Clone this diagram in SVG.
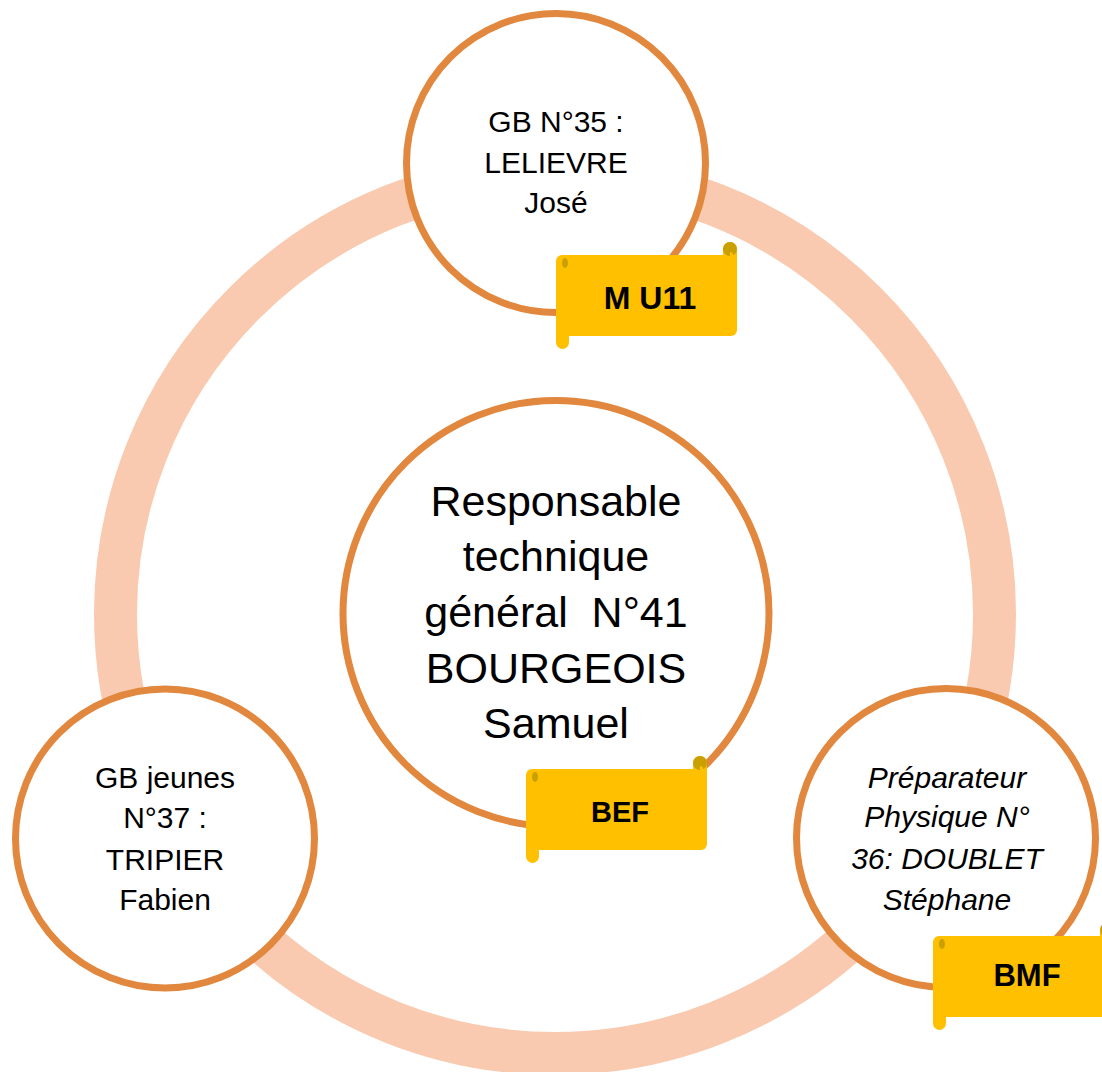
<svg xmlns="http://www.w3.org/2000/svg" xmlns:xlink="http://www.w3.org/1999/xlink" width="1102" height="1072" viewBox="0 0 1102 1072">
<style>
.node{fill:#FFFFFF;stroke:#E1873E;stroke-width:7}
.t{font-family:"Liberation Sans",Arial,sans-serif;fill:#000;text-anchor:middle}
.big{font-size:43px}
.mid{font-size:30px}
.it{font-style:italic}
.tag{font-family:"Liberation Sans",Arial,sans-serif;font-weight:bold;fill:#000;text-anchor:middle}
</style>
<defs>
<g id="scroll">
<rect x="0" y="0" width="181" height="81" rx="6" fill="#FFC000"/>
<rect x="0" y="60" width="13" height="34" rx="6.5" fill="#FFC000"/>
<path d="M167,12 L167,-6 A7,7 0 0 1 181,-6 L181,12 Z" fill="#FFC000"/>
<circle cx="174" cy="-6" r="7" fill="#C9A000"/>
<path d="M174,-3 A3,3 0 0 1 177,0 L177,7 L174,7 Z" fill="#FFC000"/>
<ellipse cx="9" cy="8" rx="3" ry="5" fill="#C9A000"/>
</g>
</defs>
<rect width="1102" height="1072" fill="#FFFFFF"/>
<g id="connectors">
<circle cx="555" cy="614" r="439.5" fill="none" stroke="#F9CAAF" stroke-width="43"/>
</g>
<g id="node-top">
<circle class="node" cx="556" cy="163" r="149.5"/>
<text class="t mid" x="556" y="132">GB N°35 :</text>
<text class="t mid" x="556" y="173">LELIEVRE</text>
<text class="t mid" x="556" y="213">José</text>
<use xlink:href="#scroll" x="556" y="255"/>
<text class="tag" x="650" y="309" font-size="32">M U11</text>
</g>
<g id="node-center">
<circle class="node" cx="556" cy="613.5" r="213"/>
<text class="t big" x="556" y="516">Responsable</text>
<text class="t big" x="556" y="571">technique</text>
<text class="t big" x="556" y="627" xml:space="preserve">général  N°41</text>
<text class="t big" x="556" y="683">BOURGEOIS</text>
<text class="t big" x="556" y="738">Samuel</text>
<use xlink:href="#scroll" x="526" y="769"/>
<text class="tag" x="620" y="822" font-size="29">BEF</text>
</g>
<g id="node-left">
<circle class="node" cx="165" cy="838.5" r="149.5"/>
<text class="t mid" x="165" y="788">GB jeunes</text>
<text class="t mid" x="165" y="828">N°37 :</text>
<text class="t mid" x="165" y="870">TRIPIER</text>
<text class="t mid" x="165" y="910">Fabien</text>
</g>
<g id="node-right">
<circle class="node" cx="946" cy="838" r="149.5"/>
<text class="t mid it" x="947" y="788">Préparateur</text>
<text class="t mid it" x="947" y="827">Physique N°</text>
<text class="t mid it" x="947" y="869">36: DOUBLET</text>
<text class="t mid it" x="947" y="910">Stéphane</text>
<use xlink:href="#scroll" x="933" y="936"/>
<text class="tag" x="1027" y="986" font-size="31">BMF</text>
</g>
</svg>
